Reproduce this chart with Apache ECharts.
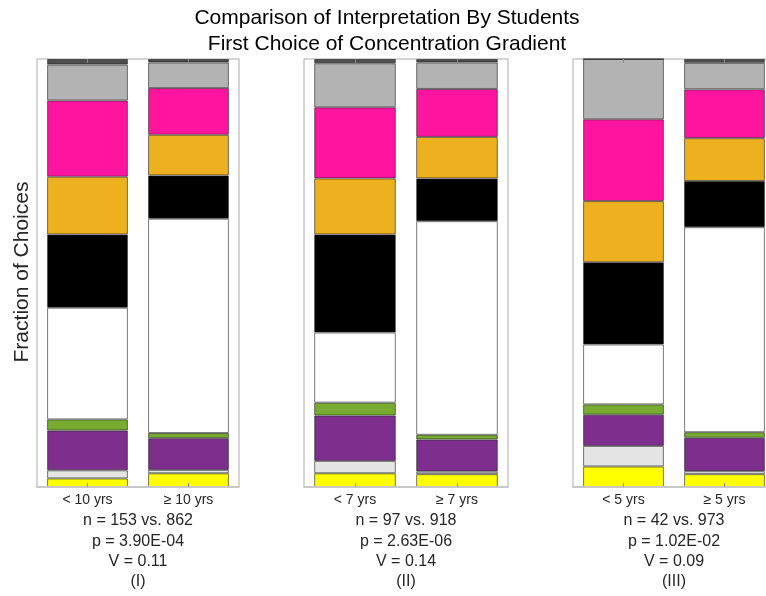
<!DOCTYPE html>
<html>
<head>
<meta charset="utf-8">
<script src="https://cdn.jsdelivr.net/npm/echarts@6/dist/echarts.min.js"></script>
<style>
  html, body { margin: 0; padding: 0; background: #fff; overflow: hidden; }
  /* canvas is a bit wider than the window so the third axes box runs off the right edge */
  #chart { width: 800px; height: 596px; }
</style>
</head>
<body>
<div id="chart"></div>
<script>
// Stack order, bottom to top
const segmentColors = ['#ffff00', '#e5e5e5', '#7e2f8e', '#77ac30', '#ffffff',
                       '#000000', '#edb120', '#ff14a0', '#b3b3b3', '#4d4d4d'];

// Fraction of first choices per group (bottom segment first)
const under10 = [0.020, 0.019, 0.093, 0.026, 0.261, 0.171, 0.135, 0.178, 0.084, 0.013];
const over10  = [0.032, 0.008, 0.074, 0.012, 0.501, 0.101, 0.095, 0.109, 0.060, 0.008];
const under7  = [0.032, 0.029, 0.106, 0.030, 0.164, 0.229, 0.131, 0.166, 0.103, 0.010];
const over7   = [0.030, 0.006, 0.075, 0.011, 0.499, 0.100, 0.097, 0.112, 0.062, 0.008];
const under5  = [0.048, 0.048, 0.073, 0.024, 0.140, 0.192, 0.143, 0.191, 0.141, 0.000];
const over5   = [0.030, 0.007, 0.078, 0.013, 0.479, 0.108, 0.100, 0.114, 0.062, 0.009];

const panelGroups = [[under10, over10], [under7, over7], [under5, over5]];
const categoryLabels = [['< 10 yrs', '\u2265 10 yrs'], ['< 7 yrs', '\u2265 7 yrs'], ['< 5 yrs', '\u2265 5 yrs']];
const nLabels = ['n = 153 vs. 862', 'n = 97 vs. 918', 'n = 42 vs. 973'];
const pLabels = ['p = 3.90E-04', 'p = 2.63E-06', 'p = 1.02E-02'];
const vLabels = ['V = 0.11', 'V = 0.14', 'V = 0.09'];
const panelNames = ['(I)', '(II)', '(III)'];

const titleLines = ['Comparison of Interpretation By Students', 'First Choice of Concentration Gradient'];
const yAxisTitle = 'Fraction of Choices';

// Layout of the three axes boxes
const gridBoxes = [
  { left: 37, width: 202 },
  { left: 304, width: 204 },
  { left: 573, width: 202 }
];
const gridTop = 59, gridHeight = 428;
const font = '"Liberation Sans", Arial, Helvetica, sans-serif';

const grids = [], xAxes = [], yAxes = [], series = [], graphics = [];

gridBoxes.forEach((b, g) => {
  grids.push({
    left: b.left, width: b.width, top: gridTop, height: gridHeight,
    show: true, borderColor: '#ababab', borderWidth: 1, backgroundColor: 'transparent'
  });
  xAxes.push({
    type: 'category', gridIndex: g, position: 'bottom',
    data: categoryLabels[g],
    axisLine: { show: true, lineStyle: { color: '#c8c8c8', width: 2 } },
    axisTick: { show: true, inside: true, length: 4, alignWithLabel: true, lineStyle: { color: '#8a8a8a' } },
    axisLabel: { color: '#262626', fontSize: 14, fontFamily: font, margin: 6 },
    z: 5
  });
  xAxes.push({
    type: 'category', gridIndex: g, position: 'top',
    data: categoryLabels[g],
    axisLine: { show: false },
    axisTick: { show: true, inside: true, length: 4, alignWithLabel: true, lineStyle: { color: '#8a8a8a' } },
    axisLabel: { show: false },
    z: 5
  });
  yAxes.push({
    type: 'value', gridIndex: g, min: 0, max: 1,
    axisLine: { show: false }, axisTick: { show: false },
    axisLabel: { show: false }, splitLine: { show: false }
  });

  const [a, c] = panelGroups[g];
  segmentColors.forEach((col, k) => {
    series.push({
      type: 'bar', xAxisIndex: g * 2, yAxisIndex: g, stack: 'panel' + g,
      barCategoryGap: '20%',
      data: [a[k], c[k]],
      itemStyle: { color: col, borderColor: 'rgba(30,30,30,0.6)', borderWidth: 1 },
      emphasis: { disabled: true },
      z: 2
    });
  });

  const cx = b.left + b.width / 2;
  [nLabels[g], pLabels[g], vLabels[g], panelNames[g]].forEach((t, i) => {
    graphics.push({
      type: 'text', x: cx, y: 521 + i * 20.3,
      style: { text: t, fill: '#262626', font: '16px ' + font, textAlign: 'center', textVerticalAlign: 'middle' }
    });
  });
});

titleLines.forEach((t, i) => {
  graphics.push({
    type: 'text', x: 387, y: 18 + i * 26,
    style: { text: t, fill: '#000', font: '21px ' + font, textAlign: 'center', textVerticalAlign: 'middle' }
  });
});

graphics.push({
  type: 'text', x: 22, y: 272, rotation: Math.PI / 2,
  style: { text: yAxisTitle, fill: '#262626', font: '21px ' + font, textAlign: 'center', textVerticalAlign: 'middle' }
});

const chart = echarts.init(document.getElementById('chart'), null, { renderer: 'canvas' });
chart.setOption({
  animation: false,
  backgroundColor: '#ffffff',
  grid: grids,
  xAxis: xAxes,
  yAxis: yAxes,
  series: series,
  graphic: graphics
});
</script>
</body>
</html>
